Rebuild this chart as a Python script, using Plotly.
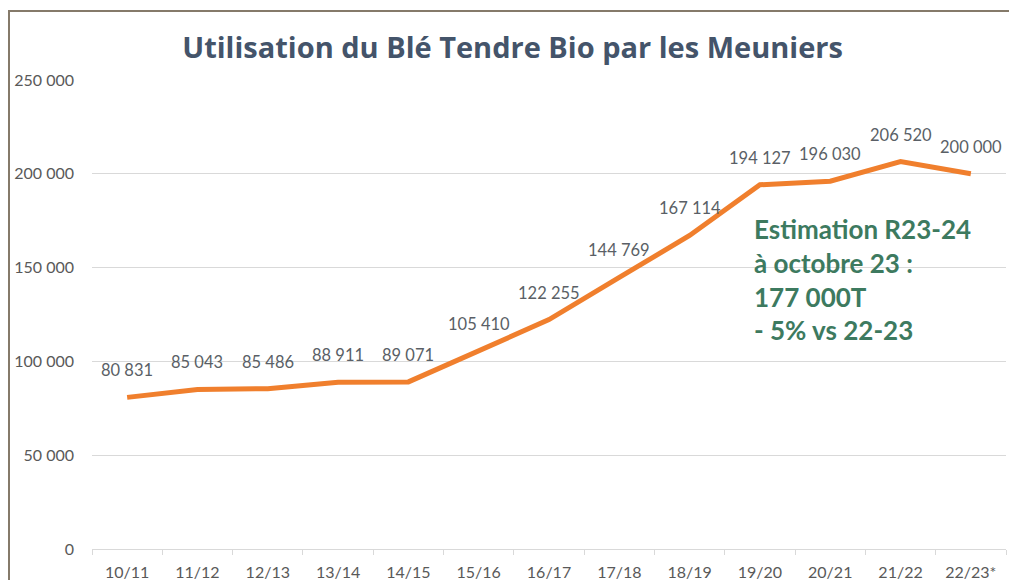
import plotly.graph_objects as go

# Campagnes et volumes (tonnes)
campagnes = ["10/11", "11/12", "12/13", "13/14", "14/15", "15/16", "16/17",
             "17/18", "18/19", "19/20", "20/21", "21/22", "22/23*"]
volumes = [80831, 85043, 85486, 88911, 89071, 105410, 122255,
           144769, 167114, 194127, 196030, 206520, 200000]

y_ticks = [0, 50000, 100000, 150000, 200000, 250000]
y_tick_labels = ["0", "50 000", "100 000", "150 000", "200 000", "250 000"]


def fr(n):
    return f"{n:,}".replace(",", " ")


fig = go.Figure()

fig.add_trace(go.Scatter(
    x=campagnes,
    y=volumes,
    mode="lines",
    line=dict(color="#F07F2D", width=5),
    hoverinfo="skip",
    showlegend=False,
))

# data labels above each point
for c, v in zip(campagnes, volumes):
    fig.add_annotation(
        x=c, y=v, text=fr(v), showarrow=False,
        yshift=27, font=dict(family="Lato", size=16.5, color="#5A5F66"),
    )

fig.add_annotation(
    xref="paper", yref="paper", x=0.722, y=0.72,
    xanchor="left", yanchor="top", align="left", showarrow=False,
    text="<b>Estimation R23-24<br>à octobre 23 :<br>177 000T<br>- 5% vs 22-23</b>",
    font=dict(family="Lato", size=26, color="#3D7A5F"),
)

# frame around the chart
fig.add_shape(
    type="rect", xref="paper", yref="paper",
    x0=(9 - 92) / 914, x1=1.2, y0=-0.2, y1=(549 - 11) / 469,
    line=dict(color="#857A6A", width=2), layer="above",
)

fig.update_layout(
    width=1009, height=580,
    margin=dict(l=92, r=3, t=80, b=31),
    paper_bgcolor="white", plot_bgcolor="white",
    font=dict(family="Lato", color="#595959"),
    title=dict(
        text="<b>Utilisation du Blé Tendre Bio par les Meuniers</b>",
        x=0.508, xref="container", xanchor="center",
        y=1 - 48 / 580, yref="container", yanchor="middle",
        font=dict(family="Open Sans", size=29, color="#44546A"),
    ),
)

fig.update_xaxes(
    type="category", range=[-0.5, 12.5], automargin=False,
    showgrid=False, showline=True, linecolor="#D9D9D9", linewidth=1,
    ticks="outside", tickson="boundaries", ticklen=5, tickcolor="#D9D9D9",
    tickfont=dict(family="Lato", size=16, color="#595959"),
    ticklabelstandoff=9,
)

fig.update_yaxes(
    range=[0, 250000], tickvals=y_ticks, ticktext=y_tick_labels,
    showgrid=True, gridcolor="#D9D9D9", gridwidth=1,
    zeroline=False, showline=False, automargin=False,
    tickfont=dict(family="Lato", size=16, color="#595959"),
    ticklabelstandoff=17,
)

fig.write_html("out.html", config={"displayModeBar": False},
               post_script="document.body.style.margin='0';")
